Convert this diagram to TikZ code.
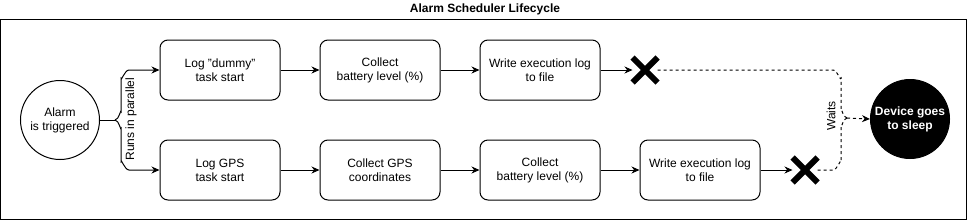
\documentclass[tikz,border=0pt]{standalone}
\usepackage{fontspec}
\setmainfont{Liberation Sans}
\usetikzlibrary{arrows.meta}
\usetikzlibrary{shapes.misc}

\begin{document}
\begin{tikzpicture}[x=1pt,y=-1pt,line width=1pt,
    every node/.style={font=\fontsize{12}{14}\selectfont,align=center},
    task/.style={draw,rounded corners=8pt,minimum width=120pt,minimum height=60pt,inner sep=0pt},
    event/.style={draw,circle,minimum size=79pt,inner sep=0pt},
    stopmark/.style={cross out,draw,line width=6pt,minimum size=19pt,inner sep=0pt},
    flow/.style={-{Stealth[length=8pt,width=7pt]}},
    waitline/.style={dash pattern=on 3pt off 3pt}]
        \def\rowa{70}
        \def\rowb{170}

        \useasboundingbox (0,0) rectangle (971,220);

        %------------------
        % 枠とタイトル
        %------------------
        \draw (0.5,19) rectangle (966,219.5);
        \node[font=\fontsize{12}{14}\selectfont\bfseries] (title) at (485,9) {Alarm Scheduler Lifecycle};

        %------------------
        % ノード
        %------------------
        \node[event] (alarm) at (60,120) {Alarm\\is triggered};

        \node[task] (dstart) at (220,\rowa) {Log "dummy"\\task start};
        \node[task] (dbatt) at (380,\rowa) {Collect\\battery level (\%)};
        \node[task] (dwrite) at (540,\rowa) {Write execution log\\to file};
        \node[stopmark] (dstop) at (645,\rowa) {};

        \node[task] (gstart) at (220,\rowb) {Log GPS\\task start};
        \node[task] (gcoord) at (380,\rowb) {Collect GPS\\coordinates};
        \node[task] (gbatt) at (540,\rowb) {Collect\\battery level (\%)};
        \node[task] (gwrite) at (700,\rowb) {Write execution log\\to file};
        \node[stopmark] (gstop) at (805,\rowb) {};

        \node[event,fill=black,text=white,font=\fontsize{12}{14}\selectfont\bfseries] (sleep) at (910,119) {Device goes\\to sleep};

        %------------------
        % 矢印
        %------------------
        \draw[flow] (dstart) -- (dbatt);
        \draw[flow] (dbatt) -- (dwrite);
        \draw[flow] (dwrite) -- (dstop);
        \draw[flow] (gstart) -- (gcoord);
        \draw[flow] (gcoord) -- (gbatt);
        \draw[flow] (gbatt) -- (gwrite);
        \draw[flow] (gwrite) -- (gstop);

        % 並列（左の括弧）
        \coordinate (fork) at (115,120);
        \draw (alarm.east) -- (fork);
        \draw[flow] (fork) to[out=0,in=90] (121,112) -- (121,78) to[out=-90,in=180] (129,\rowa) -- (dstart.west);
        \draw[flow] (fork) to[out=0,in=-90] (121,128) -- (121,162) to[out=90,in=180] (129,\rowb) -- (gstart.west);
        \node[rotate=90] (runs) at (131,119) {Runs in parallel};

        % 待ち（右の括弧）
        \coordinate (join) at (847,118);
        \draw[waitline] (dstop.east) -- (833,\rowa) to[out=0,in=-90] (841,78) -- (841,110) to[out=90,in=180] (join);
        \draw[waitline] (gstop.east) -- (833,\rowb) to[out=0,in=90] (841,162) -- (841,126) to[out=-90,in=180] (join);
        \draw[waitline,flow] (join) -- (sleep.west);
        \node[rotate=90] (waits) at (831,116) {Waits};
      \end{tikzpicture}
\end{document}
